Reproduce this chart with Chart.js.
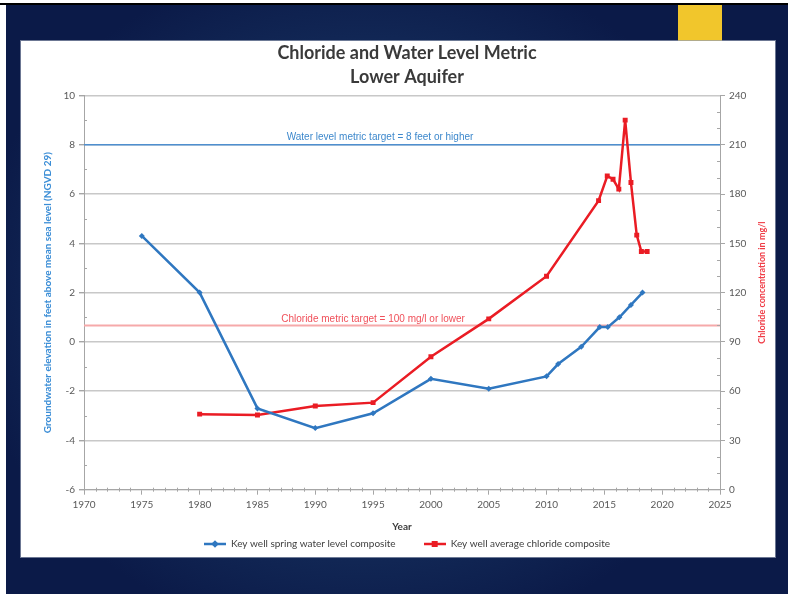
<!DOCTYPE html>
<html>
<head>
<meta charset="utf-8">
<title>Chloride and Water Level Metric</title>
<script src="https://cdn.jsdelivr.net/npm/chart.js@4.4.1/dist/chart.umd.min.js"></script>
<style>
  html, body { margin: 0; padding: 0; width: 788px; height: 594px; overflow: hidden; background: #fff; }
  #slide { position: absolute; left: 6px; top: 5px; width: 782px; height: 589px;
    background: radial-gradient(ellipse 62% 72% at 46% 50%, #21445f 0%, #173260 42%, #0b1a48 82%); }
  #rule { position: absolute; left: 0; top: 3px; width: 788px; height: 2px; background: #000; }
  #accent { position: absolute; left: 678px; top: 5px; width: 44px; height: 36px; background: #f1c62c; }
  #panel { position: absolute; left: 21px; top: 41px; width: 754px; height: 516px; background: #fff;
    box-shadow: 0 0 0 1px rgba(150,160,180,0.7); }
  canvas { display: block; }
</style>
</head>
<body>
<div id="slide"></div>
<div id="rule"></div>
<div id="accent"></div>
<div id="panel"><canvas id="chart" width="754" height="516"></canvas></div>
<script>
// Key well spring water level composite (feet, NGVD 29)
const waterYears  = [1975, 1980, 1985, 1990, 1995, 2000, 2005, 2010, 2011, 2013, 2014.6, 2015.3, 2016.3, 2017.3, 2018.3];
const waterLevels = [4.3, 2.0, -2.7, -3.5, -2.9, -1.5, -1.9, -1.4, -0.9, -0.2, 0.6, 0.6, 1.0, 1.5, 2.0];

// Key well average chloride composite (mg/l)
const chlorideYears  = [1980, 1985, 1990, 1995, 2000, 2005, 2010, 2014.5, 2015.25, 2015.75, 2016.25, 2016.8, 2017.3, 2017.8, 2018.2, 2018.7];
const chlorideValues = [46, 45.5, 51, 53, 81, 104, 130, 176, 191, 189, 183, 225, 187, 155, 145, 145];

// Metric targets
const waterTarget = 8;
const chlorideTarget = 100;

// Axis ranges and tick steps
const yearRange     = [1970, 2025];
const yearStep      = 5;
const levelRange    = [-6, 10];
const levelStep     = 2;
const chlorideRange = [0, 240];
const chlorideStep  = 30;

const BLUE = '#2f77c0';
const RED = '#ea1c24';
const TICK_GREY = '#595959';
const FONT = "Lato, 'Open Sans', 'Liberation Sans', sans-serif";

const toPoints = (xs, ys) => xs.map((x, i) => ({ x: x, y: ys[i] }));

// small line-with-marker swatches for the legend
function swatch(color, shape) {
  const c = document.createElement('canvas');
  c.width = 22; c.height = 10;
  const g = c.getContext('2d');
  g.strokeStyle = color; g.lineWidth = 2.5;
  g.beginPath(); g.moveTo(0, 5); g.lineTo(22, 5); g.stroke();
  g.fillStyle = color;
  if (shape === 'diamond') {
    g.beginPath(); g.moveTo(11, 1.2); g.lineTo(14.8, 5); g.lineTo(11, 8.8); g.lineTo(7.2, 5); g.closePath(); g.fill();
  } else {
    g.fillRect(8, 2, 6, 6);
  }
  return c;
}
const blueSwatch = swatch(BLUE, 'diamond');
const redSwatch = swatch(RED, 'square');

// minor ticks, target captions and the right-hand axis title
const decorations = {
  id: 'decorations',
  afterDraw(chart) {
    const { ctx, chartArea: a, scales } = chart;
    const x = scales.x, yl = scales.y, yr = scales.y1;
    ctx.save();
    ctx.strokeStyle = '#a6a6a6';
    ctx.lineWidth = 1;
    ctx.beginPath();
    for (let yr0 = yearRange[0]; yr0 <= yearRange[1]; yr0++) {
      if (yr0 % yearStep === 0) continue;
      const px = Math.round(x.getPixelForValue(yr0)) + 0.5;
      ctx.moveTo(px, a.bottom - 2); ctx.lineTo(px, a.bottom + 2);
    }
    for (let v = levelRange[0] + 1; v < levelRange[1]; v += levelStep) {
      const py = Math.round(yl.getPixelForValue(v)) + 0.5;
      ctx.moveTo(a.left, py); ctx.lineTo(a.left + 3, py);
    }
    for (let v = 10; v < chlorideRange[1]; v += 10) {
      if (v % chlorideStep === 0) continue;
      const py = Math.round(yr.getPixelForValue(v)) + 0.5;
      ctx.moveTo(a.right - 3, py); ctx.lineTo(a.right, py);
    }
    ctx.stroke();

    ctx.textAlign = 'center';
    ctx.textBaseline = 'middle';
    ctx.font = "10px 'Liberation Sans', Arial, sans-serif";
    ctx.fillStyle = '#3d88cc';
    ctx.fillText('Water level metric target = 8 feet or higher',
      x.getPixelForValue(1995.6), yl.getPixelForValue(waterTarget) - 8);
    ctx.fillStyle = '#f0505a';
    ctx.fillText('Chloride metric target = 100 mg/l or lower',
      x.getPixelForValue(1995.0), yr.getPixelForValue(chlorideTarget) - 6);

    ctx.translate(a.right + 42, (a.top + a.bottom) / 2 - 10);
    ctx.rotate(-Math.PI / 2);
    ctx.font = "bold 9px " + FONT;
    ctx.fillStyle = '#f03c46';
    ctx.fillText('Chloride concentration in mg/l', 0, 0);
    ctx.restore();
  }
};

const chart = new Chart(document.getElementById('chart'), {
  type: 'line',
  data: {
    datasets: [
      {
        label: 'Key well spring water level composite',
        data: toPoints(waterYears, waterLevels),
        yAxisID: 'y',
        borderColor: BLUE, backgroundColor: BLUE,
        borderWidth: 2.5, pointStyle: 'rectRot', pointRadius: 3, pointBorderWidth: 0,
        tension: 0
      },
      {
        label: 'Key well average chloride composite',
        data: toPoints(chlorideYears, chlorideValues),
        yAxisID: 'y1',
        borderColor: RED, backgroundColor: RED,
        borderWidth: 2.5, pointStyle: 'rect', pointRadius: 3.5, pointBorderWidth: 0,
        tension: 0
      },
      {
        label: 'Water level metric target',
        data: toPoints(yearRange, [waterTarget, waterTarget]),
        yAxisID: 'y',
        borderColor: '#4f8fcf', borderWidth: 1.5, pointRadius: 0
      },
      {
        label: 'Chloride metric target',
        data: toPoints(yearRange, [chlorideTarget, chlorideTarget]),
        yAxisID: 'y1',
        borderColor: '#f6a9aa', borderWidth: 2, pointRadius: 0
      }
    ]
  },
  options: {
    responsive: false,
    animation: false,
    layout: { padding: { left: 18, right: 0, top: 0, bottom: -2 } },
    plugins: {
      tooltip: { enabled: false },
      title: {
        display: true,
        text: ['Chloride and Water Level Metric', 'Lower Aquifer'],
        color: '#3a3a3a',
        font: { family: FONT, size: 18, weight: 'bold', lineHeight: '24px' },
        padding: { top: 0, bottom: 6.5 }
      },
      legend: {
        position: 'bottom',
        labels: {
          usePointStyle: true,
          pointStyleWidth: 22,
          padding: 28,
          color: '#404040',
          font: { family: FONT, size: 10 },
          generateLabels(c) {
            const items = Chart.defaults.plugins.legend.labels.generateLabels(c);
            return items.filter(it => it.datasetIndex < 2).map(it => Object.assign(it, {
              pointStyle: it.datasetIndex === 0 ? blueSwatch : redSwatch,
              fontColor: '#404040'
            }));
          }
        }
      }
    },
    scales: {
      x: {
        type: 'linear',
        min: yearRange[0], max: yearRange[1],
        afterFit(s) { s.height = 21.3; },
        ticks: { stepSize: yearStep, padding: 3.6, color: TICK_GREY, font: { family: FONT, size: 10 },
          callback: v => String(v) },
        grid: { drawOnChartArea: false, tickLength: 5, tickColor: '#a6a6a6' },
        border: { color: '#a6a6a6', width: 1 },
        title: { display: true, text: 'Year', color: '#3a3a3a',
          font: { family: FONT, size: 10, weight: 'bold' }, padding: { top: 0, bottom: -21.5 } }
      },
      y: {
        position: 'left',
        min: levelRange[0], max: levelRange[1],
        afterFit(s) { s.width = 45; },
        ticks: { stepSize: levelStep, padding: 4, color: TICK_GREY, font: { family: FONT, size: 10 } },
        grid: { color: '#c8c8c8', lineWidth: 1.4, tickLength: 5, tickColor: '#a6a6a6' },
        border: { color: '#a6a6a6', width: 1 },
        title: { display: true, text: 'Groundwater elevation in feet above mean sea level (NGVD 29)',
          color: '#3a8dd6', font: { family: FONT, size: 10, weight: 'bold' }, padding: { top: 3, bottom: 0 } }
      },
      y1: {
        position: 'right',
        min: chlorideRange[0], max: chlorideRange[1],
        afterFit(s) { s.width = 55; },
        ticks: { stepSize: chlorideStep, padding: 4, color: TICK_GREY, font: { family: FONT, size: 10 } },
        grid: { drawOnChartArea: false, tickLength: 5, tickColor: '#a6a6a6' },
        border: { color: '#a6a6a6', width: 1 }
      }
    }
  },
  plugins: [decorations]
});
</script>
</body>
</html>
